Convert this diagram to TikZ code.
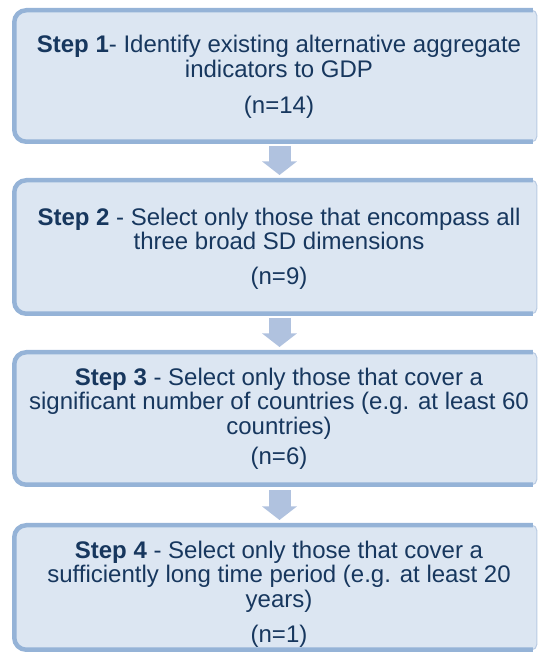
\documentclass[tikz,border=0pt]{standalone}
\usepackage{fontspec}
\setmainfont{Liberation Sans}
\usetikzlibrary{arrows.meta,calc}
\definecolor{boxfill}{HTML}{DCE6F2}
\definecolor{boxline}{HTML}{95B3D7}
\definecolor{edgethin}{HTML}{B9CBE3}
\definecolor{arrowc}{HTML}{B0C2DF}
\definecolor{txtc}{HTML}{17375E}
\newcommand\stepdeco[1]{%
  \fill[boxfill] (#1.north east) [rounded corners=5pt] -- ([xshift=-20pt]#1.north east)
     [rounded corners=12pt] -- (#1.north west) -- (#1.south west)
     [rounded corners=5pt] -- (#1.south east) -- cycle;
  \draw[edgethin, line width=1pt, rounded corners=5pt]
     ([xshift=-10pt]#1.north east) -- (#1.north east) -- (#1.south east) -- ([xshift=-10pt]#1.south east);
  \draw[boxline, line width=4.5pt, rounded corners=12pt]
     ([xshift=-4pt]#1.north east) -- (#1.north west) -- (#1.south west) -- ([xshift=-4pt]#1.south east);
}
\begin{document}
\begin{tikzpicture}[x=1pt,y=1pt,
  stepbox/.style={rectangle, inner sep=0pt, outer sep=0pt, minimum width=522.5pt},
  txt/.style={text=txtc, font=\fontsize{24}{24.5}\selectfont, anchor=base, inner sep=0pt},
  flow/.style={draw=arrowc, line width=22pt, -{Triangle[length=13.5pt,width=34pt]}}]
\useasboundingbox (0,0) rectangle (538,654);
% boxes (image y -> 654 - y)
\node[stepbox, minimum height=131.5pt] (b1) at (275.5,578) {};
\node[stepbox, minimum height=133.5pt] (b2) at (275.5,407) {};
\node[stepbox, minimum height=132.5pt] (b3) at (275.5,235.5) {};
\node[stepbox, minimum height=124.5pt] (b4) at (275.5,66.5) {};
\stepdeco{b1}
\stepdeco{b2}
\stepdeco{b3}
\stepdeco{b4}
% texts
\node[txt] (t1a) at (279,601) {\textbf{Step 1}- Identify existing alternative aggregate};
\node[txt] (t1b) at (279,576.5) {indicators to GDP};
\node[txt] (t1c) at (279,540) {(n=14)};
\node[txt] (t2a) at (279,428.5) {\textbf{Step 2} - Select only those that encompass all};
\node[txt] (t2b) at (279,404) {three broad SD dimensions};
\node[txt] (t2c) at (279,369.5) {(n=9)};
\node[txt] (t3a) at (279,268.5) {\textbf{Step 3} - Select only those that cover a};
\node[txt] (t3b) at (279,244) {significant number of countries (e.g. at least 60};
\node[txt] (t3c) at (279,219.5) {countries)};
\node[txt] (t3d) at (279,189.5) {(n=6)};
\node[txt] (t4a) at (279,95) {\textbf{Step 4} - Select only those that cover a};
\node[txt] (t4b) at (279,71) {sufficiently long time period (e.g. at least 20};
\node[txt] (t4c) at (279,46.5) {years)};
\node[txt] (t4d) at (279,11.5) {(n=1)};
% arrows
\draw[flow] ([xshift=4pt,yshift=-4.25pt]b1.south) -- ([xshift=4pt,yshift=5.25pt]b2.north);
\draw[flow] ([xshift=4pt,yshift=-4.25pt]b2.south) -- ([xshift=4pt,yshift=5.25pt]b3.north);
\draw[flow] ([xshift=4pt,yshift=-5.75pt]b3.south) -- ([xshift=4pt,yshift=5.25pt]b4.north);
\end{tikzpicture}
\end{document}
